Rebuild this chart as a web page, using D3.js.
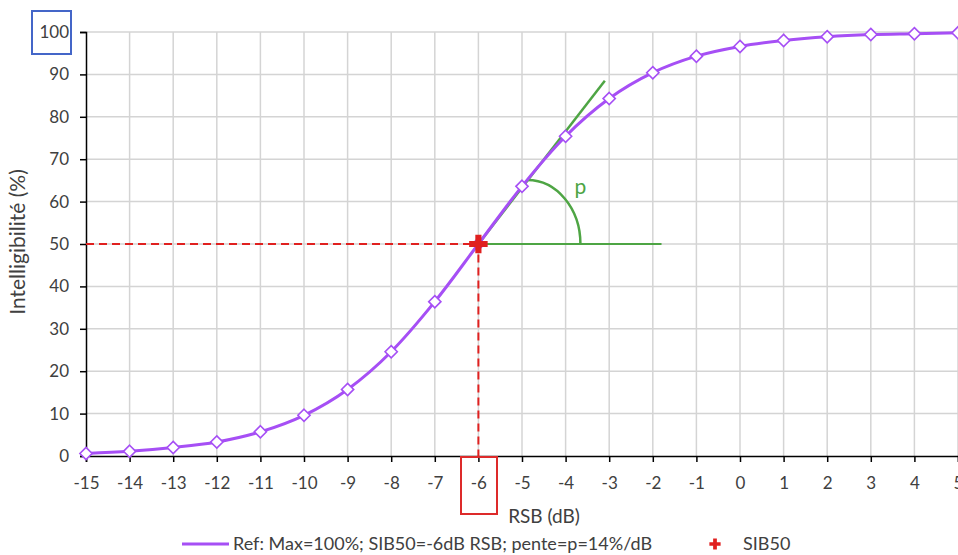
<!DOCTYPE html>
<html>
<head>
<meta charset="utf-8">
<script src="https://cdn.jsdelivr.net/npm/d3@7"></script>
<style>
  body { margin:0; background:#fff; }
  text { font-family: Lato, "Open Sans", sans-serif; fill:#404040; }
</style>
</head>
<body>
<div id="chart"></div>
<script>
// data
const rsb = [-15,-14,-13,-12,-11,-10,-9,-8,-7,-6,-5,-4,-3,-2,-1,0,1,2,3,4,5];
const intel = [0.6,1.1,2.0,3.3,5.7,9.6,15.7,24.6,36.4,50,63.6,75.4,84.3,90.4,94.3,96.6,98.0,98.9,99.4,99.6,99.8];
const xTicks = d3.range(-15,6,1);
const yTicks = [0,10,20,30,40,50,60,70,80,90,100];
const sib50 = [-6,50];
const tangent = [[-6,50],[-3.1,88.5]];
const flat = [[-6,50],[-1.8,50]];
const legendRef = "Ref: Max=100%; SIB50=-6dB RSB; pente=p=14%/dB";
const legendSib = "SIB50";

const W = 958, H = 555;
const purple = "#a64ff5", green = "#4ea544", red = "#e0201f";

const x = d3.scaleLinear().domain([-15,5]).range([86,958]);
const y = d3.scaleLinear().domain([0,100]).range([456,32]);

const svg = d3.select("#chart").append("svg")
   .attr("width",W).attr("height",H);

// grid
svg.append("g").selectAll("line.v")
   .data(xTicks.slice(1))
   .enter().append("line")
   .attr("x1",d => x(d)).attr("x2",d => x(d))
   .attr("y1",y(100)).attr("y2",y(0))
   .attr("stroke","#d4d4d4").attr("stroke-width",1.5);
svg.append("g").selectAll("line.h")
   .data(yTicks.slice(1))
   .enter().append("line")
   .attr("x1",x(-15)).attr("x2",W)
   .attr("y1",d => y(d)).attr("y2",d => y(d))
   .attr("stroke","#d4d4d4").attr("stroke-width",1.5);

// axes (plain hyphen for negatives, like the original)
const xAxis = d3.axisBottom(x).tickValues(xTicks).tickFormat(d => String(d)).tickSize(6).tickPadding(15);
const yAxis = d3.axisLeft(y).tickValues(yTicks).tickFormat(d => String(d)).tickSize(6).tickPadding(11);
svg.append("g").attr("transform","translate(0,"+y(0)+")").call(xAxis);
svg.append("g").attr("transform","translate("+x(-15)+",0)").call(yAxis);
svg.selectAll(".domain").attr("stroke","#000").attr("stroke-width",1.5);
svg.selectAll(".tick line").attr("stroke","#000").attr("stroke-width",1.5);
svg.selectAll(".tick text").style("font-size","17px").attr("fill","#404040");

// red dashed guides
svg.append("path")
   .attr("d", d3.line()([[x(-15),y(sib50[1])],[x(sib50[0]),y(sib50[1])],[x(sib50[0]),y(0)]]))
   .attr("fill","none").attr("stroke",red).attr("stroke-width",2)
   .attr("stroke-dasharray","8,5");

// green tangent, horizontal and angle arc
const gl = d3.line().x(d => x(d[0])).y(d => y(d[1]));
svg.append("path").attr("d",gl(tangent)).attr("stroke",green).attr("stroke-width",2.5).attr("fill","none");
svg.append("path").attr("d",gl(flat)).attr("stroke",green).attr("stroke-width",2).attr("fill","none");
const a0 = [x(-4.876), y(65.1)], a1 = [x(-3.66), y(50)];
svg.append("path")
   .attr("d","M"+a0[0]+","+a0[1]+" A"+(a1[0]-a0[0])+","+(a1[1]-a0[1])+" 0 0 1 "+a1[0]+","+a1[1])
   .attr("stroke",green).attr("stroke-width",2.5).attr("fill","none");
svg.append("text").attr("x",x(-3.66)).attr("y",y(61.8))
   .attr("text-anchor","middle").style("font-size","21px").style("fill",green).text("p");

// curve
svg.append("path")
   .datum(rsb.map((d,i) => [d,intel[i]]))
   .attr("d", d3.line().x(d => x(d[0])).y(d => y(d[1])).curve(d3.curveMonotoneX))
   .attr("fill","none").attr("stroke",purple).attr("stroke-width",3);
svg.append("g").selectAll("path")
   .data(rsb)
   .enter().append("path")
   .attr("d", d3.symbol(d3.symbolDiamond2,95))
   .attr("transform",(d,i) => "translate("+x(d)+","+y(intel[i])+")")
   .attr("fill","#fff").attr("stroke",purple).attr("stroke-width",1.6);

// SIB50 cross
svg.append("path").attr("d",d3.symbol(d3.symbolCross,190))
   .attr("transform","translate("+x(sib50[0])+","+y(sib50[1])+")")
   .attr("fill",red);

// titles
svg.append("text").attr("x",544).attr("y",523)
   .attr("text-anchor","middle").style("font-size","19px").text("RSB (dB)");
svg.append("text").attr("transform","translate(25,242) rotate(-90)")
   .attr("text-anchor","middle").style("font-size","21px")
   .text("Intelligibilité (%)");

// legend
svg.append("line").attr("x1",182).attr("x2",229).attr("y1",544).attr("y2",544)
   .attr("stroke",purple).attr("stroke-width",3);
svg.append("text").attr("x",233).attr("y",550).style("font-size","18px").text(legendRef);
svg.append("path").attr("d",d3.symbol(d3.symbolCross,70))
   .attr("transform","translate(715,544)").attr("fill",red);
svg.append("text").attr("x",743).attr("y",550).style("font-size","18px").text(legendSib);

// highlight boxes
svg.append("rect").attr("x",32).attr("y",11).attr("width",39).attr("height",43)
   .attr("fill","none").attr("stroke","#4466c8").attr("stroke-width",2);
svg.append("rect").attr("x",461).attr("y",457).attr("width",36).attr("height",57)
   .attr("fill","none").attr("stroke","#dd2a2a").attr("stroke-width",2);
</script>
</body>
</html>
